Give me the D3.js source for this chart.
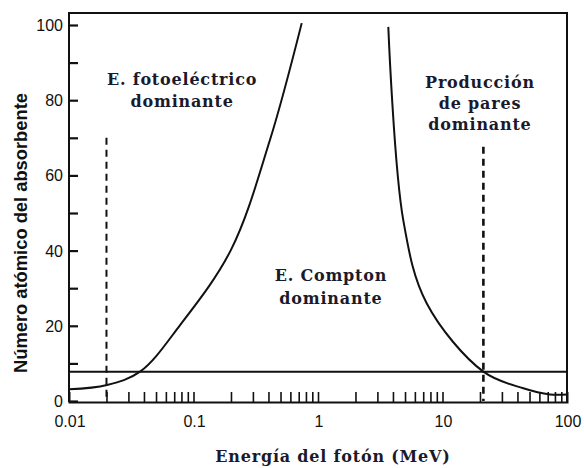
<!DOCTYPE html>
<html>
<head>
<meta charset="utf-8">
<script src="https://cdn.jsdelivr.net/npm/d3@7"></script>
<style>
  html, body { margin: 0; padding: 0; background: #fff; }
  svg { display: block; }
  .num { font-family: "Liberation Sans Narrow", "Liberation Sans", Arial, sans-serif; font-size: 16px; fill: #111; }
  .serif { font-family: "DejaVu Serif", "Liberation Serif", serif; font-weight: bold; font-size: 16px; letter-spacing: 0.8px; fill: #1a1a2c; }
  .ytitle { font-family: "Liberation Sans Narrow", "Liberation Sans", Arial, sans-serif; font-weight: bold; font-size: 18px; fill: #111; }
</style>
</head>
<body>
<svg id="chart" width="584" height="468"></svg>
<script>
// Photon energy (MeV) and absorber atomic number Z along the
// photoelectric / Compton boundary (left) and Compton / pair boundary (right)
const photoComptonE = [0.01, 0.0202, 0.0372, 0.078, 0.2, 0.411, 0.74];
const photoComptonZ = [3.1, 4.26, 7.8, 20.2, 40.2, 69.4, 100.5];

const comptonPairE = [3.67, 4.84, 7.46, 21.3, 44.6, 73, 100];
const comptonPairZ = [99.5, 48.1, 26.0, 7.8, 3.38, 1.73, 1.73];

// Reference level (horizontal) and the dashed markers
const levelZ = 7.8;
const dashedMarkers = [
  { e: 0.02, zTop: 70, width: 2 },
  { e: 21.3, zTop: 67.6, width: 2.6 }
];

// Axis ticks
const xTickValues = [0.01, 0.1, 1, 10, 100];
const xTickLabels = ["0.01", "0.1", "1", "10", "100"];
const yTickValues = [0, 20, 40, 60, 80, 100];
const yMinorValues = [10, 30, 50, 70, 90];

// Region labels
const regionLabels = [
  { e: 0.081, z: [84.0, 78.2], lines: ["E. fotoeléctrico", "dominante"] },
  { e: 1.27, z: [31.9, 25.8], lines: ["E. Compton", "dominante"] },
  { e: 20, z: [83.2, 77.7, 72.1], lines: ["Producción", "de pares", "dominante"] }
];

const xTitle = "Energía del fotón (MeV)";
const yTitle = "Número atómico del absorbente";

const svg = d3.select("#chart");
const plotLeft = 69, plotRight = 567, plotTop = 13;

const x = d3.scaleLog().domain([0.01, 100]).range([plotLeft, plotRight]);
const y = d3.scaleLinear().domain([0, 100]).range([401, 25]);

// Frame: left axis, top and right edges
svg.append("path")
  .attr("d", `M${plotLeft},${y(0) + 1}V${plotTop}H${plotRight}V${y(0) + 1}`)
  .attr("fill", "none").attr("stroke", "#111").attr("stroke-width", 2);

// Bottom axis with upward log ticks
const xMinor = [];
for (let d = 0.01; d < 100; d *= 10) {
  for (let k = 1; k <= 9; k++) xMinor.push(+(d * k).toPrecision(3));
}
const xAxis = d3.axisBottom(x).tickValues(xMinor.filter(v => v > 0.01))
  .tickSize(-10).tickFormat("");
const gx = svg.append("g").attr("transform", `translate(0,${y(0) + 1})`).call(xAxis);
gx.select(".domain").attr("stroke", "#111").attr("stroke-width", 2);
gx.selectAll(".tick line").attr("stroke", "#111").attr("stroke-width", 1.6);

svg.append("g").selectAll("text").data(xTickValues).join("text")
  .attr("class", "num")
  .attr("x", d => x(d) + 1)
  .attr("y", 427)
  .attr("text-anchor", "middle")
  .text((d, i) => xTickLabels[i]);

// Left axis ticks (inward)
const yAxis = d3.axisLeft(y).tickValues(yTickValues.concat(yMinorValues))
  .tickSize(-9).tickFormat("");
const gy = svg.append("g").attr("transform", `translate(${plotLeft},0)`).call(yAxis);
gy.select(".domain").remove();
gy.selectAll(".tick line").attr("stroke", "#111").attr("stroke-width", 2.2);

svg.append("g").selectAll("text").data(yTickValues).join("text")
  .attr("class", "num")
  .attr("x", 63)
  .attr("y", d => y(d) + 6)
  .attr("text-anchor", "end")
  .text(d => d);

// Horizontal reference level
svg.append("line")
  .attr("x1", plotLeft).attr("x2", plotRight)
  .attr("y1", y(levelZ)).attr("y2", y(levelZ))
  .attr("stroke", "#111").attr("stroke-width", 2);

// Dashed markers
svg.append("g").selectAll("line").data(dashedMarkers).join("line")
  .attr("x1", d => x(d.e)).attr("x2", d => x(d.e))
  .attr("y1", d => y(d.zTop)).attr("y2", y(0))
  .attr("stroke", "#111")
  .attr("stroke-width", d => d.width)
  .attr("stroke-dasharray", "7,5");

// Boundary curves
const line = d3.line()
  .x(d => x(d[0]))
  .y(d => y(d[1]))
  .curve(d3.curveCatmullRom.alpha(0.5));

svg.append("path")
  .datum(d3.zip(photoComptonE, photoComptonZ))
  .attr("d", line)
  .attr("fill", "none").attr("stroke", "#111").attr("stroke-width", 2);

svg.append("path")
  .datum(d3.zip(comptonPairE, comptonPairZ))
  .attr("d", line)
  .attr("fill", "none").attr("stroke", "#111").attr("stroke-width", 2);

// Region labels
regionLabels.forEach(r => {
  r.lines.forEach((t, i) => {
    svg.append("text")
      .attr("class", "serif")
      .attr("x", x(r.e))
      .attr("y", y(r.z[i]))
      .attr("text-anchor", "middle")
      .text(t);
  });
});

// Axis titles
svg.append("text")
  .attr("class", "serif")
  .attr("x", 333).attr("y", 462)
  .attr("text-anchor", "middle")
  .text(xTitle);

svg.append("text")
  .attr("class", "ytitle")
  .attr("transform", "translate(27,233) rotate(-90)")
  .attr("text-anchor", "middle")
  .attr("textLength", 280)
  .attr("lengthAdjust", "spacingAndGlyphs")
  .text(yTitle);
</script>
</body>
</html>
